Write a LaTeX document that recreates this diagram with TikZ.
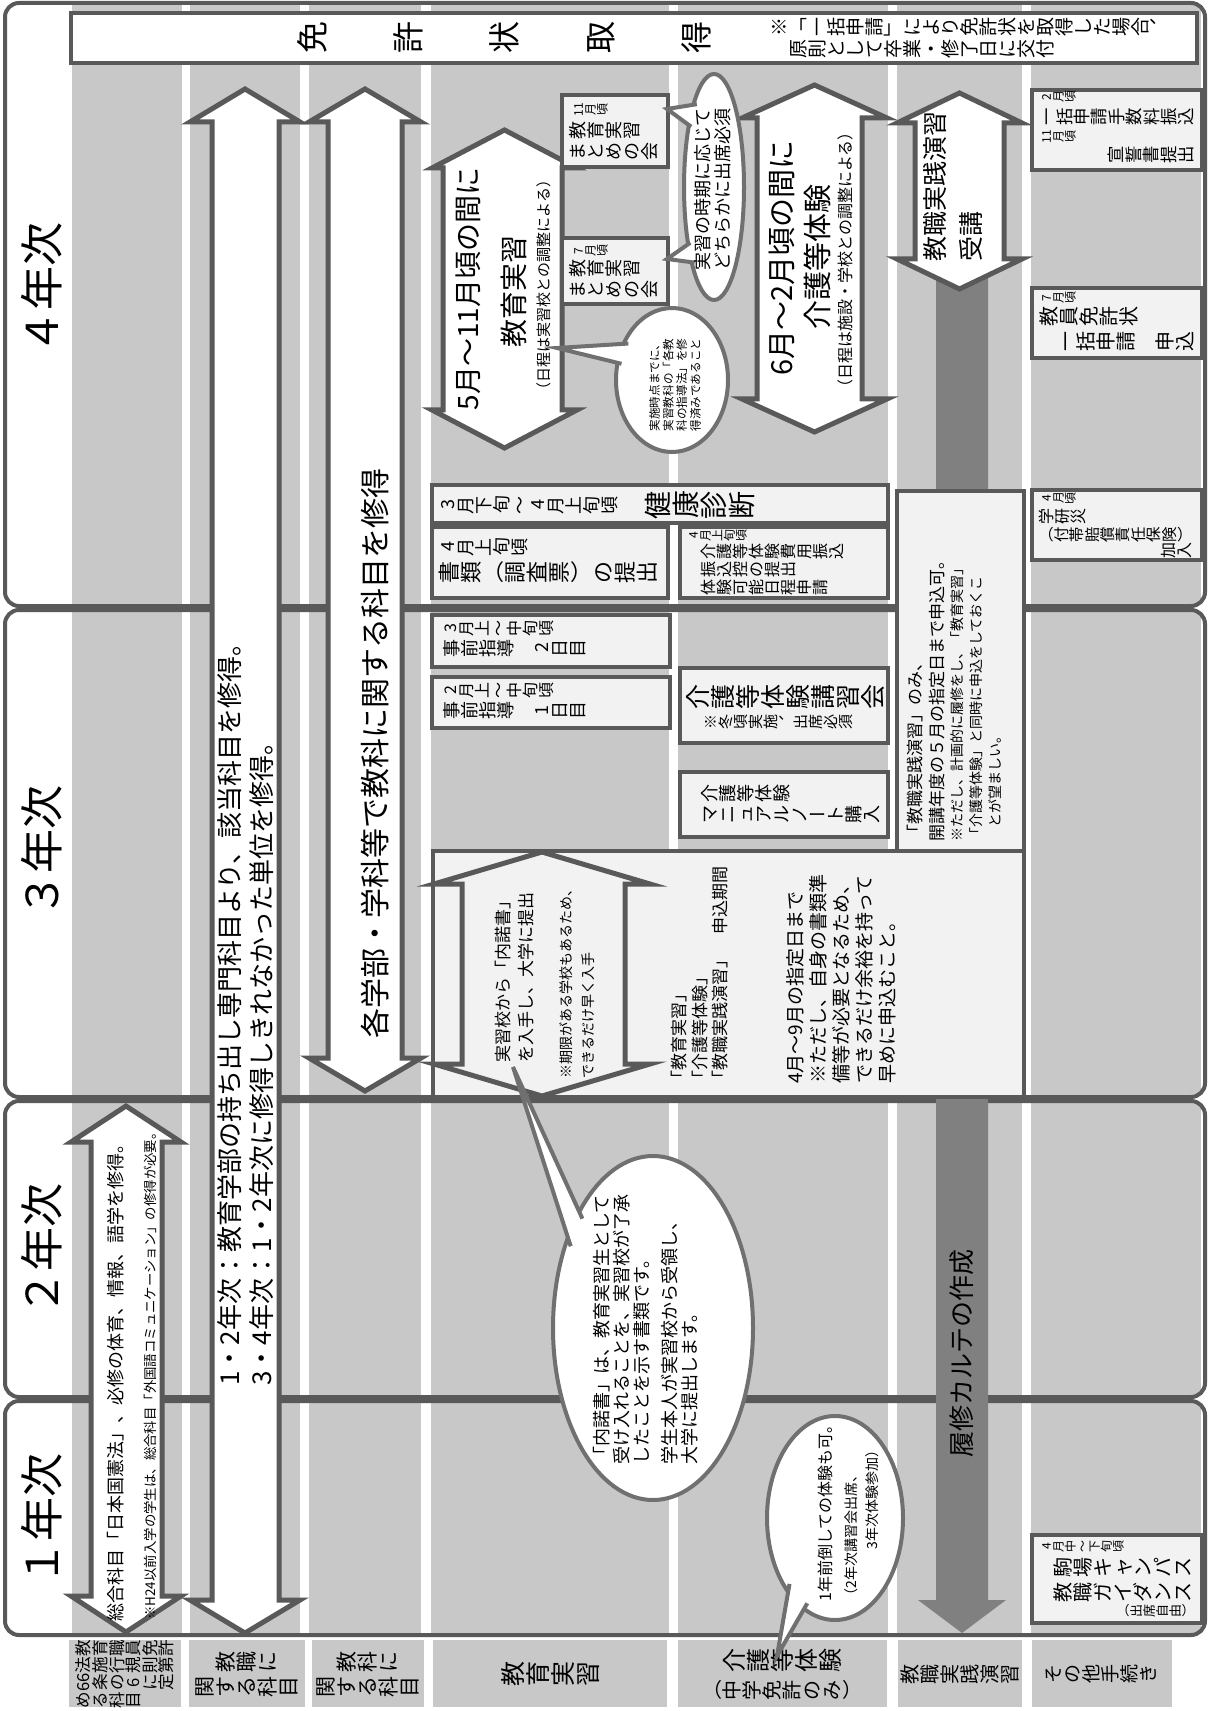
\documentclass[tikz,border=0pt]{standalone}
\usepackage{fontspec}
\setmainfont{Noto Sans CJK JP}
\usepackage{graphicx}
\definecolor{edge}{RGB}{89,89,89}
\definecolor{colgray}{RGB}{200,200,200}
\definecolor{boxfill}{RGB}{242,242,242}
\definecolor{karte}{RGB}{128,128,128}
\definecolor{bubedge}{RGB}{112,112,112}
\newcommand\fsz[2]{\fontsize{#1}{#2}\selectfont}
% vertical (tategaki) line: every character turned, brackets kept
\ExplSyntaxOn
\tl_const:Nn \c_tate_upright_tl { 「」（）ー }
\tl_const:Nn \c_tate_punct_tl { 、。 }
\cs_new_protected:Npn \tate_char:n #1
  {
    \tl_if_in:NnTF \c_tate_upright_tl {#1}
      { \makebox[1em]{#1} }
      {
        \tl_if_in:NnTF \c_tate_punct_tl {#1}
          { \makebox[1em][l]{\raisebox{0.55em}{#1}} }
          { \rotatebox[origin=c]{90}{\makebox[1em]{\rule[-0.12em]{0pt}{1em}#1}} }
      }
  }
\NewDocumentCommand \tate { m } { \tl_map_function:nN {#1} \tate_char:n }
\ExplSyntaxOff
% double block arrow: style, head l, shaft l, shaft r, head r, top, bottom, head length
\newcommand\vdarrow[8]{\draw[#1] ({(#2+#5)/2},#6) -- (#5,{#6+#8}) -- (#4,{#6+#8}) -- (#4,{#7-#8}) -- (#5,{#7-#8}) -- ({(#2+#5)/2},#7) -- (#2,{#7-#8}) -- (#3,{#7-#8}) -- (#3,{#6+#8}) -- (#2,{#6+#8}) -- cycle;}
\tikzset{
  htxt/.style={rotate=90, inner sep=0pt, align=left},
  vtxt/.style={inner sep=0pt, align=left},
  panel/.style={draw=edge, line width=2pt, rounded corners=7pt},
  infobox/.style={draw=edge, line width=2pt, fill=boxfill},
  blockarrow/.style={draw=edge, line width=2.5pt, fill=white},
  bubble/.style={draw=bubedge, line width=2pt, fill=white}
}
\begin{document}
\begin{tikzpicture}[x=0.5pt,y=-0.5pt]
\useasboundingbox (0,0) rectangle (1209,1711);
% columns inside the year panels
\begin{scope}
\clip[rounded corners=7pt] (5,3) rectangle (1205,606) (5,610) rectangle (1205,1097)
  (5,1101) rectangle (1205,1397) (5,1401) rectangle (1205,1635);
\foreach \xa/\xb in {72/182,190/300,309/421,431/669,678/888,897/1022,1031/1201}
  \fill[colgray] (\xa,0) rectangle (\xb,1640);
\end{scope}
\draw[panel] (5,3) rectangle (1205,606);
\draw[panel] (5,610) rectangle (1205,1097);
\draw[panel] (5,1101) rectangle (1205,1397);
\draw[panel] (5,1401) rectangle (1205,1635);
\node[htxt, font=\fsz{22}{26}] (year4) at (42,289) {４年次};
\node[htxt, font=\fsz{22}{26}] (year3) at (42,851) {３年次};
\node[htxt, font=\fsz{22}{26}] (year2) at (42,1249) {２年次};
\node[htxt, font=\fsz{22}{26}] (year1) at (42,1519) {１年次};

% row labels
\foreach \xa/\xb in {69/181,189/305,312/424,433/667,678/887,898/1022,1032/1172}
  \fill[colgray] (\xa,1640) rectangle (\xb,1707);
\node[vtxt, font=\fsz{8.3}{8.6}] (lab0) at (125,1674) {\tate{教育職員免許}\\\tate{法施行規則第}\\\tate{{66}条の6に定}\\\tate{める科目}};
\node[vtxt, align=center, font=\fsz{10.5}{12.5}] (lab1) at (247,1674) {\tate{教職に}\\\tate{関する科目}};
\node[vtxt, align=center, font=\fsz{10.5}{12.5}] (lab2) at (368,1674) {\tate{教科に}\\\tate{関する科目}};
\node[vtxt, font=\fsz{12.5}{14}] (lab3) at (550,1674) {\tate{教育実習}};
\node[vtxt, font=\fsz{12}{13}] (lab4a) at (782,1660) {\tate{介護等体験}};
\node[vtxt, font=\fsz{10}{12}] (lab4b) at (782,1690) {\tate{（中学免許のみ）}};
\node[vtxt, font=\fsz{10}{12}] (lab5) at (960,1674) {\tate{教職実践演習}};
\node[vtxt, font=\fsz{9.5}{12}] (lab6) at (1101,1674) {\tate{その他手続き}};

% licence
\draw[infobox, fill=white] (71,13) rectangle (1197,63);
\node[vtxt, font=\fsz{16}{18}, anchor=west] (menkyo) at (296,38) {\tate{免　　許　　状　　取　　得}};
\node[vtxt, font=\fsz{9.5}{11}, anchor=north west] (ikkatsu) at (769,17) {\tate{※「一括申請」により免許状を取得した場合、}\\\tate{　原則として卒業・修了日に交付}};

% karte
\fill[karte] (936,270) -- (988,270) -- (988,1600) -- (1006,1600) -- (962,1633) -- (918,1600) -- (936,1600) -- cycle;
\node[htxt, font=\fsz{13}{15}] (karte) at (962,1353) {履修カルテの作成};

% subjects
\vdarrow{blockarrow}{71}{91}{162}{181}{1106}{1632}{36}
\node[htxt, font=\fsz{9}{11}, anchor=west] (sogo) at (116,1622) {総合科目「日本国憲法」、必修の体育、情報、語学を修得。};
\node[htxt, font=\fsz{6.7}{8}, anchor=west] (sogonote) at (150,1620) {※H24以前入学の学生は、総合科目「外国語コミュニケーション」の修得が必要。};
\vdarrow{blockarrow}{190}{212}{279}{300}{89}{1633}{33}
\node[htxt, font=\fsz{13}{16}, anchor=north west] (kyoshoku) at (217,1386) {1・2年次：教育学部の持ち出し専門科目より、該当科目を修得。\\3・4年次：1・2年次に修得しきれなかった単位を修得。};
\vdarrow{blockarrow}{309}{328}{402}{421}{89}{1091}{33}
\node[htxt, font=\fsz{15}{18}] (kyoka) at (375,753) {各学部・学科等で教科に関する科目を修得};

% teaching practice, 4th year
\vdarrow{blockarrow}{432}{443}{562}{577}{130}{448}{38}
\node[htxt, font=\fsz{14}{16}] (jisshu1) at (468,289) {5月～11月頃の間に};
\node[htxt, font=\fsz{14}{16}] (jisshu2) at (514,292) {教育実習};
\node[htxt, font=\fsz{7.5}{9}] (jisshu3) at (544,285) {（日程は実習校との調整による）};
\draw[infobox] (562,95) rectangle (668,167);
\node[vtxt, font=\fsz{6}{7}, anchor=west] (matome11a) at (572,110) {\tate{{11}月頃}};
\node[vtxt, font=\fsz{9}{10}, anchor=west] (matome11b) at (568,131) {\tate{教育実習}};
\node[vtxt, font=\fsz{9}{10}, anchor=west] (matome11c) at (568,152) {\tate{まとめの会}};
\draw[infobox] (562,238) rectangle (668,304);
\node[vtxt, font=\fsz{6}{7}, anchor=west] (matome7a) at (572,251) {\tate{7月頃}};
\node[vtxt, font=\fsz{9}{10}, anchor=west] (matome7b) at (568,269) {\tate{教育実習}};
\node[vtxt, font=\fsz{9}{10}, anchor=west] (matome7c) at (568,290) {\tate{まとめの会}};

% care experience, 4th year
\vdarrow{blockarrow}{742}{757}{862}{887}{85}{432}{33}
\node[htxt, font=\fsz{14.5}{16}] (kaigo1) at (782,258) {6月～2月頃の間に};
\node[htxt, font=\fsz{14.5}{16}] (kaigo2) at (817,257) {介護等体験};
\node[htxt, font=\fsz{8}{9}] (kaigo3) at (845,260) {（日程は施設・学校との調整による）};

% seminar
\vdarrow{blockarrow}{897}{915}{1004}{1022}{93}{289}{30}
\node[htxt, font=\fsz{12.5}{18}, anchor=north west] (juko) at (923,262) {教職実践演習\\受講};

% boxes
\draw[infobox] (432,485) rectangle (888,523);
\node[vtxt, font=\fsz{9}{10}, anchor=west] (kenko1) at (438,505) {\tate{3月下旬～4月上旬頃}};
\node[vtxt, font=\fsz{14}{15}, anchor=west] (kenko2) at (643,505) {\tate{健康診断}};
\draw[infobox] (432,527) rectangle (668,598);
\node[vtxt, font=\fsz{9}{10}, anchor=west] (shorui1) at (438,547) {\tate{4月上旬頃}};
\node[vtxt, font=\fsz{11}{12}, anchor=west] (shorui2) at (438,572) {\tate{書類（調査票）の提出}};
\draw[infobox] (680,527) rectangle (888,598);
\node[vtxt, font=\fsz{6}{7}, anchor=west] (hiyo1) at (687,535) {\tate{4月上旬頃}};
\node[vtxt, font=\fsz{8}{9}, anchor=north west] (hiyo2) at (700,543) {\tate{介護等体験費用振込}\\\tate{振込控の提出}\\\tate{体験可能日程申請}};
\draw[infobox] (432,615) rectangle (670,667);
\node[vtxt, font=\fsz{8}{9}, anchor=west] (zenki2a) at (442,628) {\tate{3月上～中旬頃}};
\node[vtxt, font=\fsz{9}{10}, anchor=west] (zenki2b) at (442,648) {\tate{事前指導　2日目}};
\draw[infobox] (432,677) rectangle (670,728);
\node[vtxt, font=\fsz{8}{9}, anchor=west] (zenki1a) at (442,690) {\tate{2月上～中旬頃}};
\node[vtxt, font=\fsz{9}{10}, anchor=west] (zenki1b) at (442,710) {\tate{事前指導　1日目}};
\draw[infobox] (680,668) rectangle (888,743);
\node[vtxt, font=\fsz{12.5}{14}, anchor=west] (koshu1) at (685,697) {\tate{介護等体験講習会}};
\node[vtxt, font=\fsz{7.5}{9}, anchor=west] (koshu2) at (703,722) {\tate{※冬頃実施、出席必須}};
\draw[infobox] (680,772) rectangle (888,837);
\node[vtxt, font=\fsz{9}{10.5}, anchor=north west] (manual) at (700,784) {\tate{介護等体験}\\\tate{マニュアルノート購入}};

% application period
\draw[infobox] (433,851) rectangle (1024,1097);
\vdarrow{blockarrow, fill=boxfill}{434}{462}{625}{650}{852}{1096}{32}
\node[htxt, font=\fsz{8.5}{11.5}, anchor=north west] (naidaku) at (495,1063) {実習校から「内諾書」\\を入手し、大学に提出};
\node[htxt, font=\fsz{7}{11}, anchor=north west] (kigen) at (559,1079) {※期限がある学校もあるため、\\できるだけ早く入手};
\node[htxt, font=\fsz{8.5}{10.3}, anchor=north west] (moshikomi) at (671,1088) {「教育実習」\\「介護等体験」\\「教職実践演習」　申込期間};
\node[htxt, font=\fsz{9.5}{11.5}, anchor=north west] (kikan) at (786,1084) {4月～9月の指定日まで\\※ただし、自身の書類準\\備等が必要となるため、\\できるだけ余裕を持って\\早めに申込むこと。};
\draw[infobox] (897,491) rectangle (1024,851);
\node[htxt, font=\fsz{8.5}{11}, anchor=north west] (nomi) at (907,842) {「教職実践演習」のみ、\\開講年度の５月の指定日まで申込可。};
\node[htxt, font=\fsz{7}{9.5}, anchor=north west] (nozomashii) at (950,842) {※ただし、計画的に履修をし、「教育実習」\\「介護等体験」と同時に申込をしておくこ\\　とが望ましい。};

% other procedures
\draw[infobox] (1032,90) rectangle (1202,170);
\node[vtxt, font=\fsz{6}{7}, anchor=west] (tesu1) at (1040,97) {\tate{2月頃}};
\node[vtxt, font=\fsz{8.7}{10}, anchor=west] (tesu2) at (1038,117) {\tate{一括申請手数料振込}};
\node[vtxt, font=\fsz{6}{7}, anchor=west] (sensei1) at (1040,137) {\tate{{11}月頃}};
\node[vtxt, font=\fsz{8.7}{10}, anchor=east] (sensei2) at (1195,155) {\tate{宣誓書提出}};
\draw[infobox] (1032,288) rectangle (1202,358);
\node[vtxt, font=\fsz{6}{7}, anchor=west] (shinsei1) at (1040,298) {\tate{7月頃}};
\node[vtxt, font=\fsz{10}{11}, anchor=west] (shinsei2) at (1038,317) {\tate{教員免許状}};
\node[vtxt, font=\fsz{10}{11}, anchor=west] (shinsei3) at (1055,342) {\tate{一括申請}};
\node[vtxt, font=\fsz{10}{11}, anchor=east] (shinsei4) at (1195,342) {\tate{申込}};
\draw[infobox] (1032,490) rectangle (1202,560);
\node[vtxt, font=\fsz{6}{7}, anchor=west] (gakkensai1) at (1040,498) {\tate{4月頃}};
\node[vtxt, font=\fsz{8}{9}, anchor=west] (gakkensai2) at (1038,516) {\tate{学研災}};
\node[vtxt, font=\fsz{7.7}{9}, anchor=west] (gakkensai3) at (1038,535) {\tate{（付帯賠償責任保険）}};
\node[vtxt, font=\fsz{8}{9}, anchor=east] (gakkensai4) at (1193,550) {\tate{加入}};
\draw[infobox] (1032,1535) rectangle (1202,1623);
\node[vtxt, font=\fsz{6}{7}, anchor=west] (guidance1) at (1040,1546) {\tate{4月中～下旬頃}};
\node[vtxt, font=\fsz{10}{11}, anchor=west] (guidance2) at (1052,1567) {\tate{駒場キャンパス}};
\node[vtxt, font=\fsz{10}{11}, anchor=west] (guidance3) at (1052,1592) {\tate{教職ガイダンス}};
\node[vtxt, font=\fsz{6.5}{7}, anchor=east] (guidance4) at (1195,1611) {\tate{（出席自由）}};

% speech bubbles
\draw[bubble] (672,380) ellipse [x radius=56, y radius=72];
\coordinate (tipjishi) at (557,348);
\filldraw[bubble] ({672+0.93*56*cos(213)},{380+0.93*72*sin(213)}) -- (tipjishi) -- ({672+0.93*56*cos(194)},{380+0.93*72*sin(194)});
\node[htxt, font=\fsz{5.8}{6.8}] (jishi) at (675,385) {実施時点までに、\\実習教科の「各教\\科の指導法」を修\\得済みであること};

\draw[bubble] (714,187) ellipse [x radius=30, y radius=113];
\coordinate (tipmatome11) at (667,109);
\coordinate (tipmatome7) at (667,259);
\filldraw[bubble] ({714+0.93*30*cos(232)},{187+0.93*113*sin(232)}) -- (tipmatome11) -- ({714+0.93*30*cos(215)},{187+0.93*113*sin(215)});
\filldraw[bubble] ({714+0.93*30*cos(148)},{187+0.93*113*sin(148)}) -- (tipmatome7) -- ({714+0.93*30*cos(134)},{187+0.93*113*sin(134)});
\node[htxt, font=\fsz{9}{10}] (shusseki) at (713,190) {実習の時期に応じて\\どちらかに出席必須};

\draw[bubble] (653,1328) ellipse [x radius=100, y radius=172];
\coordinate (tipnaidaku) at (513,1067);
\filldraw[bubble] ({653+0.95*100*cos(222)},{1328+0.95*172*sin(222)}) -- (tipnaidaku) -- ({653+0.95*100*cos(210)},{1328+0.95*172*sin(210)});
\node[htxt, font=\fsz{9}{10}, anchor=north west] (naidakusho1) at (593,1465) {「内諾書」は、教育実習生として\\受け入れることを、実習校が了承\\したことを示す書類です。};
\node[htxt, font=\fsz{9}{10}, anchor=north west] (naidakusho2) at (661,1465) {学生本人が実習校から受領し、\\大学に提出します。};

\draw[bubble] (835,1518) ellipse [x radius=68, y radius=102];
\coordinate (tipkaigo) at (777,1656);
\filldraw[bubble] ({835+0.93*68*cos(136)},{1518+0.93*102*sin(136)}) -- (tipkaigo) -- ({835+0.93*68*cos(116)},{1518+0.93*102*sin(116)});
\node[htxt, font=\fsz{8}{9}, anchor=west] (maedaoshi1) at (825,1602) {1年前倒しての体験も可。};
\node[htxt, font=\fsz{7}{8}, anchor=west] (maedaoshi2) at (851,1603) {（2年次講習会出席、};
\node[htxt, font=\fsz{7}{8}, anchor=west] (maedaoshi3) at (872,1550) {3年次体験参加）};
\end{tikzpicture}
\end{document}
